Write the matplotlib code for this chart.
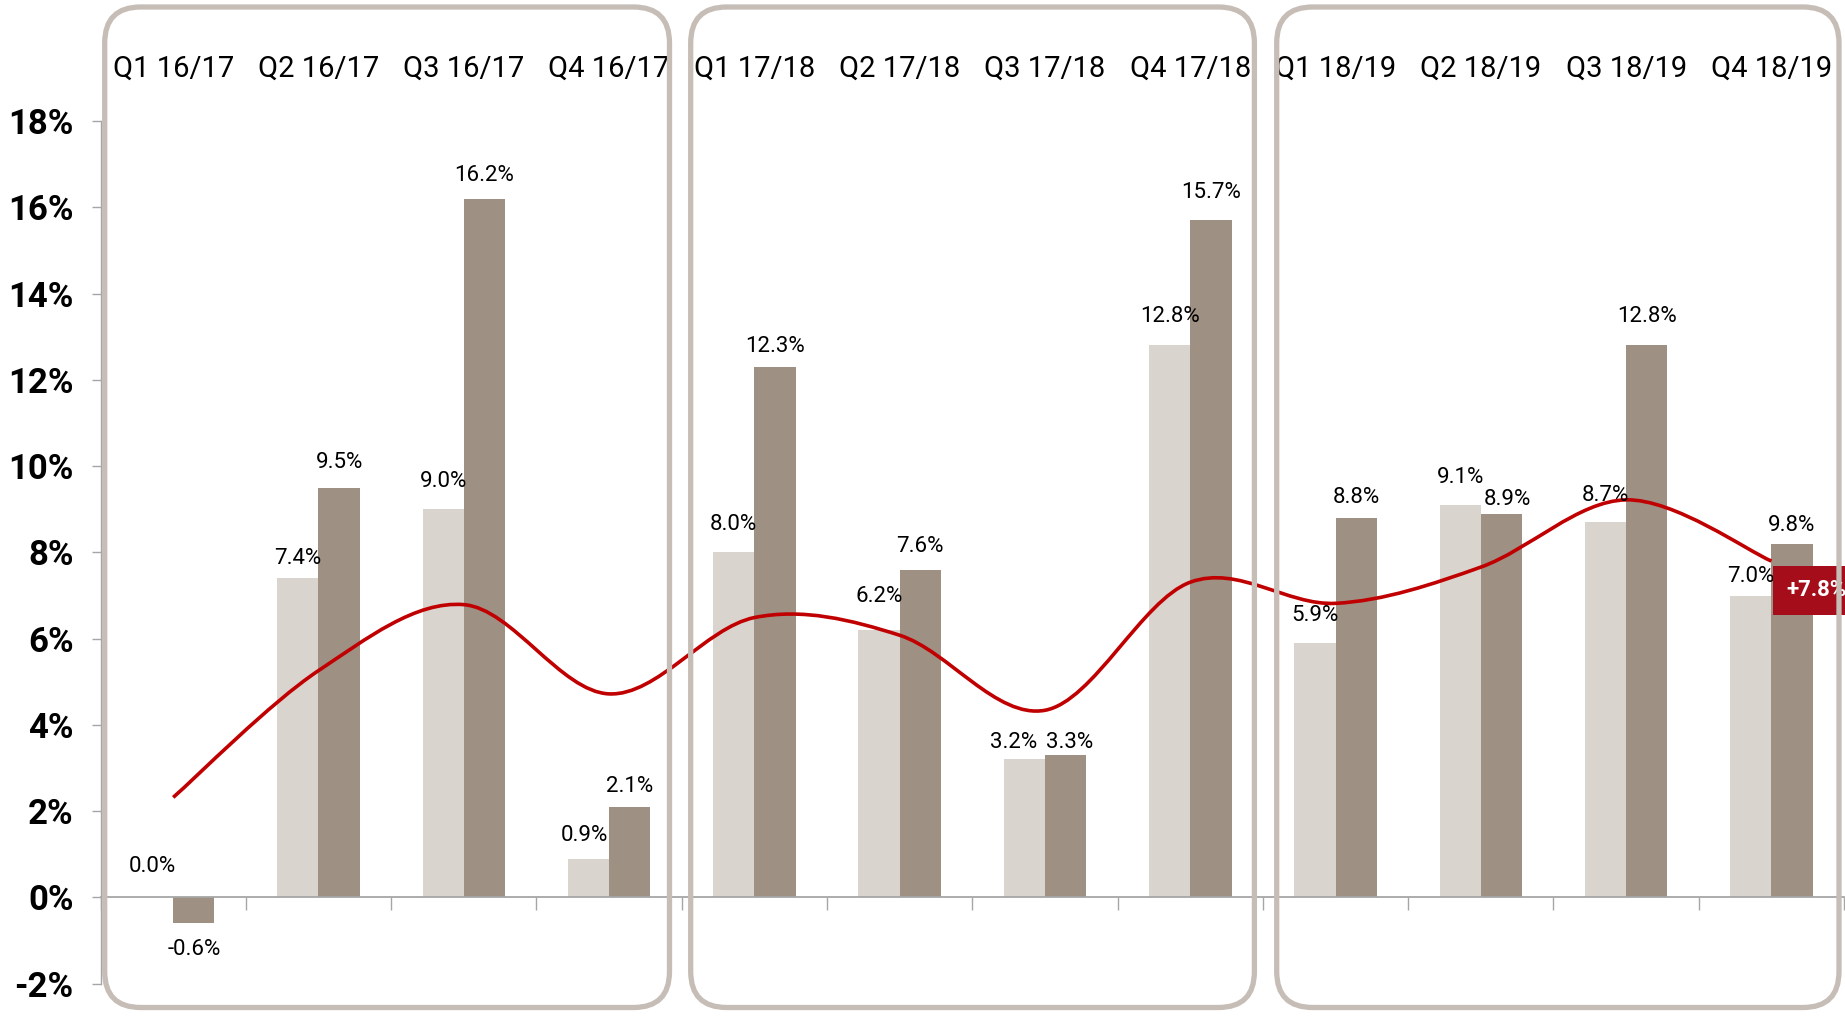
import matplotlib
matplotlib.use("Agg")
import matplotlib.pyplot as plt
import numpy as np
from matplotlib.path import Path
from matplotlib.patches import PathPatch, FancyBboxPatch
from matplotlib.transforms import IdentityTransform

# ---------------- data ----------------
categories = ["Q1 16/17", "Q2 16/17", "Q3 16/17", "Q4 16/17",
              "Q1 17/18", "Q2 17/18", "Q3 17/18", "Q4 17/18",
              "Q1 18/19", "Q2 18/19", "Q3 18/19", "Q4 18/19"]
series_light = [0.0, 7.4, 9.0, 0.9, 8.0, 6.2, 3.2, 12.8, 5.9, 9.1, 8.7, 7.0]
series_dark = [-0.6, 9.5, 16.2, 2.1, 12.3, 7.6, 3.3, 15.7, 8.8, 8.9, 12.8, 8.2]
labels_light = ["0.0%", "7.4%", "9.0%", "0.9%", "8.0%", "6.2%", "3.2%", "12.8%",
                "5.9%", "9.1%", "8.7%", "7.0%"]
labels_dark = ["-0.6%", "9.5%", "16.2%", "2.1%", "12.3%", "7.6%", "3.3%", "15.7%",
               "8.8%", "8.9%", "12.8%", "9.8%"]
trend = [2.32, 5.26, 6.79, 4.72, 6.49, 6.08, 4.34, 7.31, 6.82, 7.66, 9.22, 7.8]
trend_label = "+7.8%"
ytick_values = [-2, 0, 2, 4, 6, 8, 10, 12, 14, 16, 18]
ytick_labels = ["-2%", "0%", "2%", "4%", "6%", "8%", "10%", "12%", "14%", "16%", "18%"]

# label offsets (points) relative to bar ends
off_light = [22, 14, 20, 17, 20, 24, 12, 21, 20, 20, 19, 14]
off_dark = [-19, 18, 17, 15, 15, 17, 9, 20, 15, 10, 21, 13]
dx_light = [0, 0, 0, -3, 0, 0, -8, 0, 0, 0, 0, 0]
dx_dark = [0, 0, 0, 0, 0, 0, 3, 0, 0, 4, 0, 0]

# ---------------- style ----------------
C_LIGHT = "#d9d4ce"
C_DARK = "#9e9083"
C_LINE = "#c00000"
C_BOX = "#c6bdb6"
C_TAG = "#a50d1b"
FONT = ["Roboto", "DejaVu Sans"]

W, H, DPI = 18.45, 10.16, 100
fig = plt.figure(figsize=(W, H), dpi=DPI)
ax = fig.add_axes([0.0545, 0.0318, 0.945, 0.8489])

x = np.arange(len(categories))
bw = 0.284
ax.bar(x - bw / 2, series_light, width=bw, color=C_LIGHT, zorder=2)
ax.bar(x + bw / 2, series_dark, width=bw, color=C_DARK, zorder=2)

# data labels
for xi, v, lab, o, dx in zip(x, series_light, labels_light, off_light, dx_light):
    ax.annotate(lab, (xi - bw / 2, v), xytext=(dx, o), textcoords="offset points",
                ha="center", va="center", fontsize=16, family=FONT, zorder=5)
for xi, v, lab, o, dx in zip(x, series_dark, labels_dark, off_dark, dx_dark):
    ax.annotate(lab, (xi + bw / 2, v), xytext=(dx, o), textcoords="offset points",
                ha="center", va="center", fontsize=16, family=FONT, zorder=5)

# smooth trend line (Excel-like Catmull-Rom bezier)
pts = np.column_stack([x.astype(float), np.array(trend, float)])
verts = [tuple(pts[0])]
codes = [Path.MOVETO]
n = len(pts)
for i in range(n - 1):
    p0 = pts[i - 1] if i > 0 else pts[i]
    p1 = pts[i]
    p2 = pts[i + 1]
    p3 = pts[i + 2] if i + 2 < n else pts[i + 1]
    c1 = p1 + (p2 - p0) / 6.0
    c2 = p2 - (p3 - p1) / 6.0
    verts += [tuple(c1), tuple(c2), tuple(p2)]
    codes += [Path.CURVE4] * 3
ax.add_patch(PathPatch(Path(verts, codes), facecolor="none", edgecolor=C_LINE,
                       lw=2.6, zorder=4, capstyle="butt"))

# end tag
ax.annotate(trend_label, (x[-1], trend[-1]), xytext=(11, -21), textcoords="offset points",
            ha="left", va="center", fontsize=16, fontweight="bold", color="white",
            family=FONT, zorder=6,
            bbox=dict(boxstyle="square,pad=0.6", fc=C_TAG, ec="none"))

# axes styling
ax.set_xlim(-0.5, len(categories) - 0.5)
ax.set_ylim(-2, 18)
for s in ["top", "right"]:
    ax.spines[s].set_visible(False)
ax.spines["bottom"].set_position(("data", 0))
ax.spines["bottom"].set_color("#a6a6a6")
ax.spines["bottom"].set_linewidth(1.3)
ax.spines["left"].set_color("#a6a6a6")
ax.spines["left"].set_linewidth(1.0)
ax.set_xticks(np.arange(-0.5, len(categories), 1.0))
ax.set_xticklabels([])
ax.tick_params(axis="x", direction="out", length=9, width=1.0, color="#a6a6a6")
ax.set_yticks(ytick_values)
ax.set_yticklabels(ytick_labels, fontsize=25, fontweight="bold", family=FONT)
ax.tick_params(axis="y", direction="out", length=6.5, width=1.0, color="#a6a6a6", pad=13)

# category labels at the top
for xi, c in zip(x, categories):
    ax.text(xi, 1.061, c, transform=ax.get_xaxis_transform(), ha="center", va="center",
            fontsize=21, family=FONT, clip_on=False)

# rounded group boxes (pixel coordinates)
fig_h_px = H * DPI
boxes_px = [(104.7, 669.5), (690.7, 1254.4), (1276.7, 1839.0)]
top_px, bot_px = 7.0, 1007.5
for l, r in boxes_px:
    p = FancyBboxPatch((l, fig_h_px - bot_px), r - l, bot_px - top_px,
                       boxstyle="round,pad=0,rounding_size=36",
                       transform=IdentityTransform(), fc="none", ec=C_BOX, lw=3.8,
                       zorder=10)
    fig.patches.append(p)

fig.savefig("out.png", dpi=DPI)
